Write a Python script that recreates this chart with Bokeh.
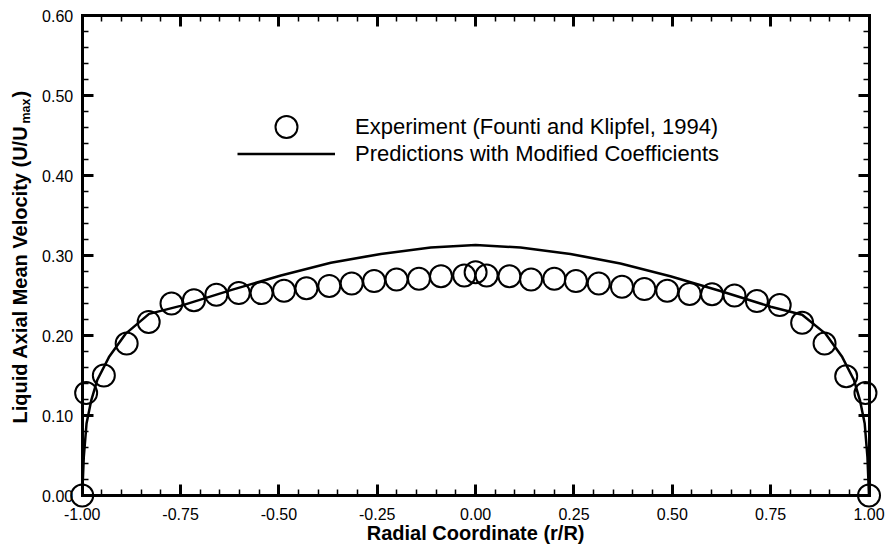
import math
from bokeh.plotting import figure
from bokeh.models import (Range1d, LinearAxis, FixedTicker, NumeralTickFormatter,
                          Legend, LegendItem, Label)
from bokeh.embed import file_html
from bokeh.resources import INLINE

# Experiment (Founti and Klipfel, 1994)
exp_r = [-1.0, -0.990, -0.945, -0.887, -0.831, -0.773, -0.716, -0.659, -0.602, -0.544,
         -0.487, -0.430, -0.372, -0.315, -0.258, -0.201, -0.144, -0.088, -0.029, 0.0,
         0.028, 0.086, 0.141, 0.200, 0.255, 0.313, 0.372, 0.429, 0.487, 0.544,
         0.601, 0.658, 0.715, 0.773, 0.830, 0.887, 0.942, 0.991, 1.0]
exp_u = [0.0, 0.128, 0.150, 0.190, 0.217, 0.240, 0.244, 0.251, 0.253, 0.253,
         0.256, 0.259, 0.262, 0.265, 0.268, 0.270, 0.271, 0.274, 0.275, 0.279,
         0.275, 0.274, 0.270, 0.271, 0.268, 0.265, 0.261, 0.258, 0.256, 0.252,
         0.2515, 0.250, 0.243, 0.238, 0.216, 0.190, 0.149, 0.128, 0.0]

# Predictions with Modified Coefficients
pred_r = [-1.0, -0.996, -0.989, -0.977, -0.962, -0.932, -0.890, -0.830, -0.750, -0.620,
          -0.495, -0.368, -0.241, -0.114, 0.0, 0.114, 0.241, 0.368, 0.495, 0.620,
          0.750, 0.830, 0.890, 0.932, 0.962, 0.977, 0.989, 0.996, 1.0]
pred_u = [0.0, 0.048, 0.090, 0.119, 0.144, 0.173, 0.202, 0.227, 0.237, 0.257,
          0.275, 0.291, 0.302, 0.310, 0.313, 0.310, 0.302, 0.290, 0.274, 0.256,
          0.236, 0.226, 0.202, 0.173, 0.144, 0.119, 0.090, 0.048, 0.0]

# axis ticks
x_ticks = [-1.0, -0.75, -0.5, -0.25, 0.0, 0.25, 0.5, 0.75, 1.0]
x_minor = [round(-1.0 + 0.05 * i, 2) for i in range(41)]
y_ticks = [0.0, 0.1, 0.2, 0.3, 0.4, 0.5, 0.6]
y_minor = [round(0.02 * i, 2) for i in range(31)]
x_bounds = (-1.0, 1.0)
y_bounds = (0.0, 0.6)

FONT = "Liberation Sans"

p = figure(output_backend="svg", toolbar_location=None,
           frame_width=885, frame_height=547,
           x_range=Range1d(-1.2077, 1.0419), y_range=Range1d(-0.065, 0.61875),
           x_axis_type=None, y_axis_type=None,
           min_border_left=0, min_border_right=0, min_border_top=0, min_border_bottom=0)
p.outline_line_color = None
p.background_fill_color = "white"
p.border_fill_color = "white"


def make_axis(ticks, minor, loc, bounds, show_labels):
    ax = LinearAxis(ticker=FixedTicker(ticks=ticks, minor_ticks=minor),
                    formatter=NumeralTickFormatter(format="0.00"),
                    fixed_location=loc, bounds=bounds,
                    axis_line_width=3, axis_line_cap="square", axis_line_color="black",
                    major_tick_line_width=3, major_tick_in=11, major_tick_out=0,
                    major_tick_line_color="black",
                    minor_tick_line_width=1.5, minor_tick_in=6, minor_tick_out=0,
                    minor_tick_line_color="black",
                    major_label_text_font=FONT, major_label_text_font_size="16px",
                    major_label_text_color="black")
    if not show_labels:
        ax.major_label_text_font_size = "0px"
        ax.major_label_text_alpha = 0
    return ax


ax_b = make_axis(x_ticks, x_minor, y_bounds[0], x_bounds, True)
ax_b.major_label_standoff = 12
ax_t = make_axis(x_ticks, x_minor, y_bounds[1], x_bounds, False)
ax_l = make_axis(y_ticks, y_minor, x_bounds[0], y_bounds, True)
ax_l.major_label_standoff = 9
ax_r = make_axis(y_ticks, y_minor, x_bounds[1], y_bounds, False)
p.add_layout(ax_b, "below")
p.add_layout(ax_t, "above")
p.add_layout(ax_l, "left")
p.add_layout(ax_r, "right")

r_pred = p.line(pred_r, pred_u, line_color="black", line_width=2.5)
r_exp = p.scatter(exp_r, exp_u, marker="circle", size=22, fill_color=None,
                  line_color="black", line_width=2)

leg1 = Legend(items=[LegendItem(label="Experiment (Founti and Klipfel, 1994)", renderers=[r_exp])],
              location=(237, 393), glyph_width=98, glyph_height=55, label_height=55,
              label_standoff=20, spacing=0, padding=0, margin=0,
              border_line_color=None, background_fill_alpha=0,
              label_text_font=FONT, label_text_font_size="22px", label_text_color="black")
leg2 = Legend(items=[LegendItem(label="Predictions with Modified Coefficients", renderers=[r_pred])],
              location=(237, 380), glyph_width=98, glyph_height=27, label_height=27,
              label_standoff=20, spacing=0, padding=0, margin=0,
              border_line_color=None, background_fill_alpha=0,
              label_text_font=FONT, label_text_font_size="22px", label_text_color="black")
p.add_layout(leg1)
p.add_layout(leg2)

# x axis title
p.add_layout(Label(x=0.0, y=0.0, y_offset=-37, text="Radial Coordinate (r/R)",
                   text_align="center", text_baseline="alphabetic",
                   text_font=FONT, text_font_size="20px", text_font_style="bold",
                   text_color="black"))

# y axis title with subscript
yx = -1.157
y0 = 0.09
main_w = 14.948 * 20
sub_w = 2.001 * 12.5
p.add_layout(Label(x=yx, y=y0, angle=math.pi / 2, text="Liquid Axial Mean Velocity (U/U",
                   text_align="left", text_baseline="middle",
                   text_font=FONT, text_font_size="20px", text_font_style="bold",
                   text_color="black"))
p.add_layout(Label(x=yx, y=y0, x_offset=6, y_offset=main_w + 1, angle=math.pi / 2, text="max",
                   text_align="left", text_baseline="middle",
                   text_font=FONT, text_font_size="12.5px", text_font_style="bold",
                   text_color="black"))
p.add_layout(Label(x=yx, y=y0, y_offset=main_w + sub_w + 2, angle=math.pi / 2, text=")",
                   text_align="left", text_baseline="middle",
                   text_font=FONT, text_font_size="20px", text_font_style="bold",
                   text_color="black"))

open("out.html", "w").write(file_html(p, INLINE))
